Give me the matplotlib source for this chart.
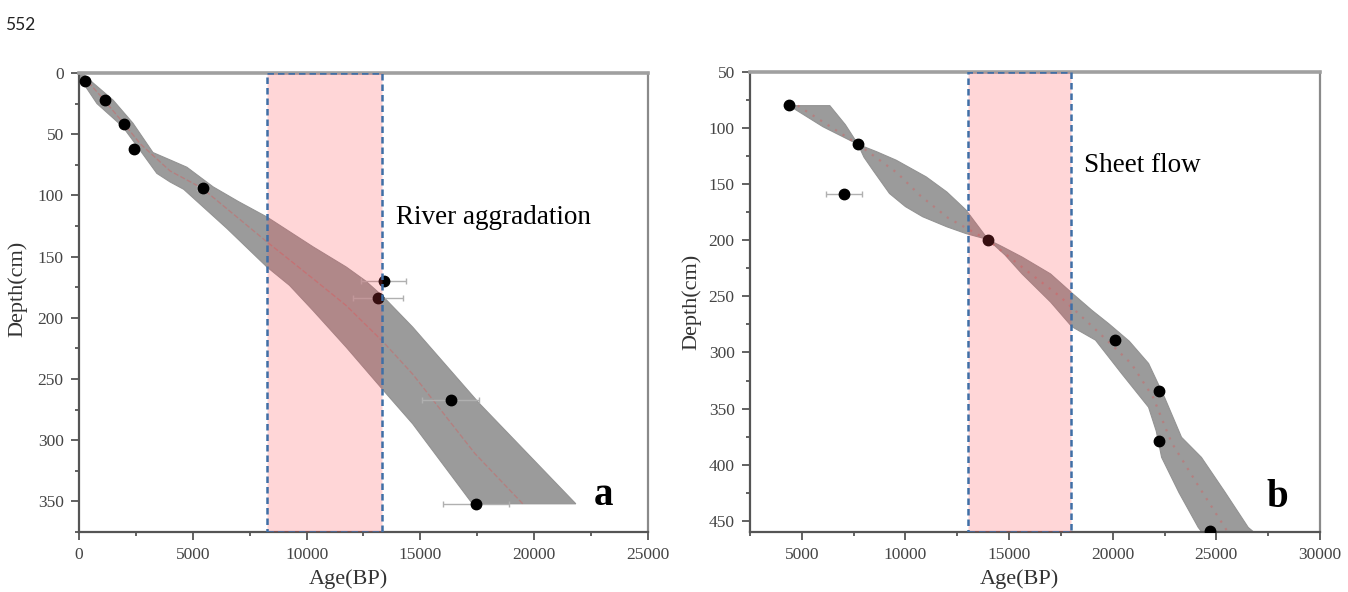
import matplotlib
matplotlib.use("Agg")
import matplotlib.pyplot as plt
from matplotlib.ticker import MultipleLocator

plt.rcParams['font.family'] = ['Liberation Serif', 'DejaVu Serif']

# ---- panel a: dated samples ----
a_age = [263, 1140, 1970, 2410, 5440, 13380, 13130, 16340, 17440]
a_depth = [6.5, 22, 42, 62, 94, 170, 184, 267.5, 352]
a_err = [120, 150, 150, 150, 250, 1000, 1100, 1250, 1450]

# age-depth model envelope (older edge top->bottom, younger edge)
a_old_age = [150, 610, 1490, 2370, 3250, 4000, 4740, 5890, 7000, 8260, 10280, 11740, 12600,
             13380, 14660, 17590, 21830]
a_old_depth = [0, 8, 22, 41, 65, 71, 77, 93, 105, 117.7, 142, 158.5, 170, 183, 207.6, 270, 352]
a_young_age = [0, 790, 1930, 2680, 3420, 4000, 4600, 6500, 8260, 9250, 10280, 11740, 13380,
               14660, 17290]
a_young_depth = [3, 25, 44, 63, 82, 89, 95, 127, 158.5, 173.5, 194, 224, 259.4, 286.6, 352]
a_mean_age = [200, 1100, 2000, 2700, 4000, 5400, 8260, 10280, 11740, 13380, 14660, 17400, 19500]
a_mean_depth = [3, 22, 42, 58, 80, 94, 138, 168, 190, 220, 246, 311, 352]

# ---- panel b ----
b_age = [4390, 7710, 7030, 13990, 20130, 22250, 22250, 24700]
b_depth = [79, 114.5, 159, 199.5, 289, 334.5, 379, 459]
b_err = [150, 150, 860, 150, 150, 150, 150, 150]

b_old_age = [4390, 6350, 7100, 7710, 8600, 9550, 11000, 12000, 12920, 13990, 14700, 15630, 17000,
             18030, 19000, 19810, 20800, 21730, 22500, 23320, 24280, 25400, 26540, 26800]
b_old_depth = [80, 80, 97, 114.5, 121, 128.6, 143.5, 157, 173, 199.4, 206, 215, 230,
               247, 262.5, 274.4, 290, 309.8, 340, 375.6, 393.5, 424, 456, 460]
b_young_age = [4390, 6020, 7710, 8000, 8430, 9230, 10000, 10830, 12000, 12920, 13990, 14800,
               15630, 17000, 18030, 19170, 20430, 21730, 22100, 22360, 23200, 24130, 24300]
b_young_depth = [80, 98.8, 114.5, 126, 137.5, 158.3, 170, 179, 188, 194, 199.4, 213,
                 230, 255, 277, 289, 318.8, 348.8, 370, 393.5, 425, 456, 460]
b_mean_age = [4800, 7710, 9600, 10700, 12050, 13990, 15700, 17450, 19200, 20900, 21950, 22830,
              24170, 25550]
b_mean_depth = [80, 114.5, 140, 160, 180, 200, 225, 250, 280, 310, 340, 380, 420, 460]

events = [("River aggradation", 8250, 13330), ("Sheet flow", 13000, 18000)]

fig = plt.figure(figsize=(13.48, 5.92), dpi=100)
ax_a = fig.add_axes([0.0586, 0.1014, 0.4221, 0.7753])
ax_b = fig.add_axes([0.5564, 0.1014, 0.4228, 0.7770])

fig.text(0.004, 0.972, "552", family="Lato", fontsize=12.5, va="top", color="#222222")


def draw(ax, age, depth, err, old_a, old_d, young_a, young_d, mean_a, mean_d,
         mean_style, event, xlim, ylim, xmaj, ymaj, letter, letter_xy, text_xy):
    poly_x = list(old_a) + list(young_a)[::-1]
    poly_y = list(old_d) + list(young_d)[::-1]
    ax.fill(poly_x, poly_y, color="#9b9b9b", lw=0.8, ec="#939393", zorder=1)
    ax.plot(mean_a, mean_d, color="#c86a6a", alpha=0.55, zorder=2, **mean_style)
    ax.errorbar(age, depth, xerr=err, fmt="o", color="black", ms=7.5,
                ecolor="#b0b0b0", elinewidth=1, capsize=2.5, capthick=1, zorder=3)
    name, x0, x1 = event
    ax.axvspan(x0, x1, facecolor=(1.0, 0.27, 0.30, 0.22), edgecolor="#3f6fa6",
               lw=1.8, ls=(0, (2.6, 1.6)), zorder=4)
    ax.text(text_xy[0], text_xy[1], name, fontsize=19.5, va="center", ha="left", zorder=5)
    ax.text(letter_xy[0], letter_xy[1], letter, fontsize=28, fontweight="bold",
            ha="left", va="baseline", zorder=5)

    ax.set_xlim(*xlim)
    ax.set_ylim(ylim[1], ylim[0])
    ax.xaxis.set_major_locator(MultipleLocator(xmaj))
    ax.xaxis.set_minor_locator(MultipleLocator(xmaj / 2))
    ax.yaxis.set_major_locator(MultipleLocator(ymaj))
    ax.yaxis.set_minor_locator(MultipleLocator(ymaj / 2))
    ax.tick_params(which="both", direction="out", colors="#555555",
                   labelcolor="#444444", labelsize=12.5, width=1.3,
                   labelfontfamily="Liberation Serif")
    ax.tick_params(which="major", length=6, pad=5)
    ax.tick_params(which="minor", length=3)
    for s in ["left", "bottom"]:
        ax.spines[s].set_color("#555555")
        ax.spines[s].set_linewidth(1.6)
    ax.spines["right"].set_color("#8a8a8a")
    ax.spines["right"].set_linewidth(1.6)
    ax.spines["top"].set_color("#a0a0a0")
    ax.spines["top"].set_linewidth(2.6)
    ax.set_xlabel("Age(BP)", fontsize=16, color="#333333")
    ax.set_ylabel("Depth(cm)", fontsize=16, color="#333333")


draw(ax_a, a_age, a_depth, a_err, a_old_age, a_old_depth, a_young_age, a_young_depth,
     a_mean_age, a_mean_depth, dict(lw=1.0, ls="--"), events[0],
     (0, 25000), (0, 375), 5000, 50, "a", (22600, 353), (13950, 118))
ax_a.xaxis.set_label_coords(0.473, -0.082)
ax_a.yaxis.set_label_coords(-0.09, 0.53)

draw(ax_b, b_age, b_depth, b_err, b_old_age, b_old_depth, b_young_age, b_young_depth,
     b_mean_age, b_mean_depth, dict(lw=1.6, ls=(0, (1, 3))), events[1],
     (2500, 30000), (50, 460), 5000, 50, "b", (27400, 438), (18600, 133))
ax_b.xaxis.set_label_coords(0.472, -0.082)
ax_b.yaxis.set_label_coords(-0.086, 0.5)

fig.savefig("out.png", dpi=100)
